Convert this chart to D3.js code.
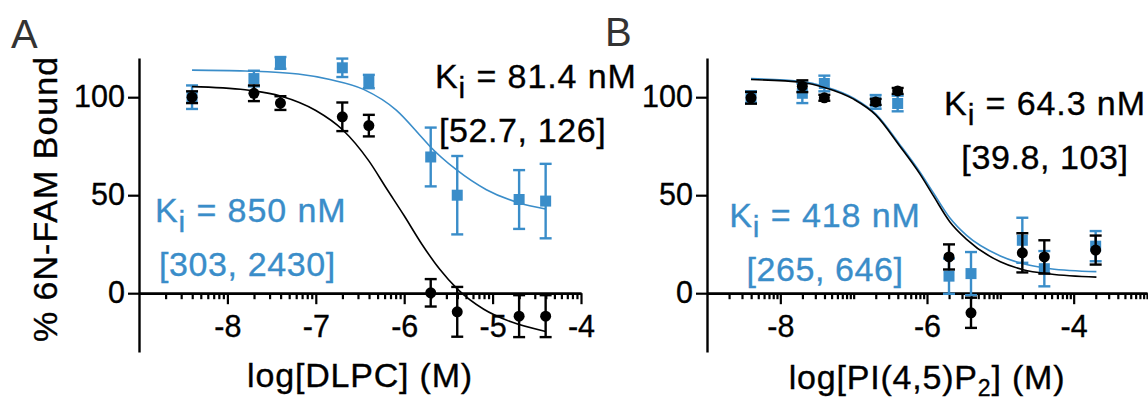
<!DOCTYPE html>
<html>
<head>
<meta charset="utf-8">
<script src="https://cdn.jsdelivr.net/npm/d3@7"></script>
<style>
  body { margin: 0; background: #fff; }
  text { font-family: "Liberation Sans", Arial, Helvetica, sans-serif; }
</style>
</head>
<body>
<svg id="chart" width="1148" height="398"></svg>
<script>
const BLUE = "#3a8dc9";

// shared y axis
const yDomain = [-30, 120];
const yTickValues = [0, 50, 100];

// Panel A : DLPC
const concA = [-8.4, -7.7, -7.4, -6.7, -6.4, -5.7, -5.4, -4.7, -4.4];
const blackA = [100, 102, 97, 90, 85.5, 0.2, -9.5, -11.7, -11.7];
const blackAErr = [3, 4, 3.5, 7.3, 5.5, 7, 12.7, 10.7, 10.7];
const blueA = [100, 109.5, 117.5, 115, 108, 69.5, 50, 47.8, 47];
const blueAErr = [6, 4, 3, 4.7, 3.4, 15, 20, 15, 19];
// fitted curves
const fitAxBlack = [-8.4, -7.8, -7.4, -7.0, -6.7, -6.4, -6.2, -6.0, -5.8, -5.6, -5.4, -5.1, -4.8, -4.4];
const fitAyBlack = [105.4, 103.8, 100.6, 93.2, 83.5, 67.5, 53.4, 39.5, 25, 12.3, 2.2, -8.2, -14.5, -19.5];
const fitAxBlue = [-8.4, -7.8, -7.2, -6.84, -6.46, -6.09, -5.82, -5.71, -5.41, -5.07, -4.71, -4.4];
const fitAyBlue = [113.8, 113.4, 111.8, 109, 104, 93.4, 80.5, 75, 63, 52.8, 46.2, 43];
const xTicksA = [-8, -7, -6, -5, -4];

// Panel B : PI(4,5)P2
const concB = [-8.4, -7.7, -7.4, -6.7, -6.4, -5.7, -5.4, -4.7, -4.4, -3.7];
const blackB = [99.7, 105.6, 99.7, 97.6, 103.2, 18.5, -10, 20.6, 18.5, 22];
const blackBErr = [3, 3, 1.5, 1.5, 1.5, 6.4, 7.7, 10, 8.5, 7.4];
const blueB = [100, 102, 107, 97.6, 96.8, 8.7, 10, 27, 12.5, 24];
const blueBErr = [3, 5, 4, 3.5, 4, 9, 11, 11.5, 9, 7.7];
const fitBx = [-8.4, -7.7, -7.4, -7.0, -6.7, -6.37, -6.1, -5.91, -5.69, -5.46, -5.0, -4.69, -4.32, -3.69];
const fitByBlack = [109, 107.5, 105, 99, 91, 75, 61, 49.5, 36.5, 27.5, 16, 12, 9.8, 8.2];
const fitByBlue = [109.5, 108, 105.5, 99.5, 91.5, 75.8, 62, 51, 38.5, 29.5, 19, 15, 12.5, 11];
const xTicksB = [-8, -6, -4];

const svg = d3.select("#chart");
const y = d3.scaleLinear().domain(yDomain).range([352, 58]);

function styleAxis(g, fontSize) {
  g.select(".domain").attr("stroke", "#000").attr("stroke-width", 2.4);
  g.selectAll(".tick line").attr("stroke", "#000").attr("stroke-width", 2.2);
  g.selectAll("text").attr("font-size", fontSize)
    .attr("font-family", "'Liberation Sans', Arial, sans-serif").attr("fill", "#000")
    .attr("stroke", "#000").attr("stroke-width", 0.35);
}

function drawPanel(p) {
  const x = d3.scaleLinear().domain(p.xDomain).range(p.xRange);
  const g = svg.append("g");

  // log minor ticks
  const minor = [];
  for (let d = p.xDomain[0]; d < p.xDomain[1]; d++) {
    if (!p.majors.includes(d) && d !== p.xDomain[0]) minor.push(d);
    for (let k = 2; k <= 9; k++) minor.push(d + Math.log10(k));
  }
  if (!p.majors.includes(p.xDomain[1])) minor.push(p.xDomain[1]);

  g.append("g").attr("transform", `translate(0,${y(0)})`)
    .call(d3.axisBottom(x).tickValues(minor).tickSize(6).tickFormat("").tickSizeOuter(0))
    .call(a => styleAxis(a, 30));
  g.append("g").attr("transform", `translate(0,${y(0)})`)
    .call(d3.axisBottom(x).tickValues(p.majors).tickSize(11).tickPadding(11)
      .tickFormat(d => String(d)).tickSizeOuter(0))
    .call(a => styleAxis(a, 30.5));

  g.append("g").attr("transform", `translate(${x(p.xDomain[0])},0)`)
    .call(d3.axisLeft(y).tickValues(yTickValues).tickSize(11).tickPadding(3).tickSizeOuter(0))
    .call(a => styleAxis(a, 30.5));

  const line = d3.line().x(d => x(d[0])).y(d => y(d[1])).curve(d3.curveMonotoneX);

  function series(xs, ys, errs, fitX, fitY, color, shape) {
    g.append("path")
      .datum(fitX.map((v, i) => [v, fitY[i]]))
      .attr("fill", "none").attr("stroke", color).attr("stroke-width", 1.6)
      .attr("d", line);
    const pts = g.append("g").selectAll("g")
      .data(xs.map((v, i) => ({ x: v, y: ys[i], e: errs[i] })))
      .enter().append("g");
    pts.append("line")
      .attr("x1", d => x(d.x)).attr("x2", d => x(d.x))
      .attr("y1", d => y(d.y - d.e)).attr("y2", d => y(d.y + d.e))
      .attr("stroke", color).attr("stroke-width", 2.4);
    [-1, 1].forEach(s => {
      pts.append("line")
        .attr("x1", d => x(d.x) - 6).attr("x2", d => x(d.x) + 6)
        .attr("y1", d => y(d.y + s * d.e)).attr("y2", d => y(d.y + s * d.e))
        .attr("stroke", color).attr("stroke-width", 2.4);
    });
    if (shape === "square") {
      pts.append("rect")
        .attr("x", d => x(d.x) - 5.5).attr("y", d => y(d.y) - 5.5)
        .attr("width", 11).attr("height", 11).attr("fill", color);
    } else {
      pts.append("circle")
        .attr("cx", d => x(d.x)).attr("cy", d => y(d.y)).attr("r", 5.5).attr("fill", color);
    }
  }

  series(p.conc, p.blue, p.blueErr, p.fitXBlue, p.fitYBlue, BLUE, "square");
  series(p.conc, p.black, p.blackErr, p.fitXBlack, p.fitYBlack, "#000", "circle");

  // x axis title
  const t = g.append("text")
    .attr("x", (p.xRange[0] + p.xRange[1]) / 2).attr("y", p.titleY)
    .attr("text-anchor", "middle").attr("font-size", 34).attr("letter-spacing", 0.8)
    .attr("stroke", "#000").attr("stroke-width", 0.35);
  p.title.forEach(part => {
    const ts = t.append("tspan").text(part.text);
    if (part.sub) ts.attr("font-size", 23).attr("dy", 7);
    else if (part.after) ts.attr("dy", -7);
  });

  // panel letter
  svg.append("text").attr("x", p.letterX).attr("y", p.letterY)
    .attr("font-size", 40).attr("fill", "#333").text(p.letter);
}

function kiLabel(xPos, yPos, anchor, color, value, ci) {
  const t = svg.append("text").attr("x", xPos).attr("y", yPos)
    .attr("text-anchor", anchor).attr("font-size", 34).attr("letter-spacing", 0.9)
    .attr("fill", color).attr("stroke", color).attr("stroke-width", 0.35);
  t.append("tspan").text("K");
  t.append("tspan").text("i").attr("dy", 10).attr("font-size", 30);
  t.append("tspan").text(" = " + value).attr("dy", -10);
  svg.append("text").attr("x", xPos + (anchor === "start" ? 4 : 0)).attr("y", yPos + 54)
    .attr("text-anchor", anchor).attr("font-size", 34).attr("letter-spacing", 0.6)
    .attr("fill", color).attr("stroke", color).attr("stroke-width", 0.35).text(ci);
}

drawPanel({
  xDomain: [-9, -4], xRange: [139, 581], majors: xTicksA,
  conc: concA, black: blackA, blackErr: blackAErr, blue: blueA, blueErr: blueAErr,
  fitXBlack: fitAxBlack, fitYBlack: fitAyBlack, fitXBlue: fitAxBlue, fitYBlue: fitAyBlue,
  title: [{ text: "log[DLPC] (M)" }], titleY: 387,
  letter: "A", letterX: 11, letterY: 48
});

drawPanel({
  xDomain: [-9, -3], xRange: [707, 1147], majors: xTicksB,
  conc: concB, black: blackB, blackErr: blackBErr, blue: blueB, blueErr: blueBErr,
  fitXBlack: fitBx, fitYBlack: fitByBlack, fitXBlue: fitBx, fitYBlue: fitByBlue,
  title: [{ text: "log[PI(4,5)P" }, { text: "2", sub: true }, { text: "] (M)", after: true }], titleY: 389,
  letter: "B", letterX: 605, letterY: 46
});

// y axis title
svg.append("text")
  .attr("transform", "translate(57,199) rotate(-90)")
  .attr("text-anchor", "middle").attr("font-size", 34).attr("letter-spacing", 1)
  .attr("stroke", "#000").attr("stroke-width", 0.35)
  .text("% 6N-FAM Bound");

// Ki annotations
kiLabel(435, 88, "start", "#000", "81.4 nM", "[52.7, 126]");
kiLabel(155, 222, "start", BLUE, "850 nM", "[303, 2430]");
kiLabel(825, 227, "middle", BLUE, "418 nM", "[265, 646]");
kiLabel(1045, 115, "middle", "#000", "64.3 nM", "[39.8, 103]");
</script>
</body>
</html>
